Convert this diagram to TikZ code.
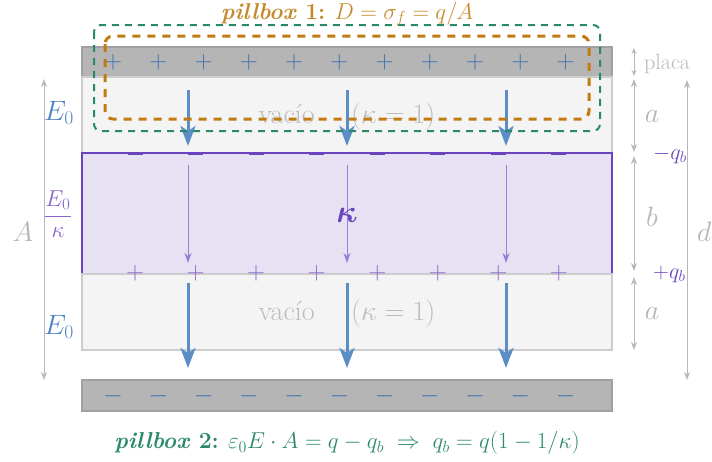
\RequirePackage{fix-cm}
\documentclass[tikz,border=0pt]{standalone}
\usepackage{amsmath}
\usetikzlibrary{arrows.meta}
\definecolor{plategray}{HTML}{B5B5B5}
\definecolor{plateedge}{HTML}{A0A0A0}
\definecolor{vacfill}{HTML}{F4F4F4}
\definecolor{vacedge}{HTML}{CDCDCD}
\definecolor{dielfill}{HTML}{E7E2F3}
\definecolor{dielpurple}{HTML}{6A44BE}
\definecolor{thinpurple}{HTML}{9A7ED6}
\definecolor{signpurple}{HTML}{8A66CC}
\definecolor{fieldblue}{HTML}{5B8EC7}
\definecolor{signblue}{HTML}{3D6FB2}
\definecolor{eblue}{HTML}{4F84C4}
\definecolor{dimgray}{HTML}{B8B8B8}
\definecolor{lblgray}{HTML}{B5B5B5}
\definecolor{vactext}{HTML}{BDBDBD}
\definecolor{pbgreen}{HTML}{2B8A66}
\definecolor{pborange}{HTML}{C27A12}
\definecolor{pbotext}{HTML}{C48A2C}
\newcommand{\fbig}{\fontsize{28}{34}\selectfont}
\newcommand{\fmid}{\fontsize{22}{26}\selectfont}
\newcommand{\fsign}{\fontsize{25}{30}\selectfont}
\newcommand{\fpb}{\fontsize{23}{28}\selectfont}
\tikzset{
  plate/.style={fill=plategray, draw=plateedge, line width=1.2pt},
  vac/.style={fill=vacfill, draw=vacedge, line width=1.2pt},
  diel/.style={fill=dielfill, draw=dielpurple, line width=1.6pt},
  efield/.style={draw=fieldblue, line width=3pt, -{Stealth[length=20pt,width=15pt,inset=5pt]}},
  dfield/.style={draw=thinpurple, line width=1pt, -{Stealth[length=10pt,width=7pt,inset=3pt]}},
  dimline/.style={draw=dimgray, line width=1pt, {Stealth[length=8pt,width=6pt,inset=2.5pt]}-{Stealth[length=8pt,width=6pt,inset=2.5pt]}},
  bsign/.style={inner sep=0pt, text=signblue, font=\fsign},
  psign/.style={inner sep=0pt, text=signpurple, font=\fsign},
  dminus/.style={draw=dielpurple, line width=3.5pt},
  lbl/.style={inner sep=0pt, text=lblgray, font=\fbig},
  vactxt/.style={inner sep=0pt, text=vactext, font=\fbig},
  pbox1/.style={draw=pborange, line width=3pt, dash pattern=on 8pt off 7pt, rounded corners=8pt},
  pbox2/.style={draw=pbgreen, line width=2pt, dash pattern=on 7pt off 6pt, rounded corners=7pt}
}
\begin{document}
\begin{tikzpicture}[x=1pt,y=-1pt]
\useasboundingbox (0,0) rectangle (712,461);
% plates and layers
\draw[plate] (82,47) rectangle (612,77);
\draw[plate] (82,380) rectangle (612,411);
\draw[vac] (82,77) rectangle (612,153);
\draw[diel] (82,153) rectangle (612,274);
\draw[vac] (82,274) rectangle (612,350);
% free charges on plates
\foreach \i in {0,...,10} {
  \node[bsign] (pp\i) at ({113+45.27*\i},62) {$+$};
  \node[bsign] (pm\i) at ({113+45.27*\i},396) {$-$};
}
% bound charges
\foreach \i in {0,...,7} {
  \draw[dminus] ({135+60.57*\i-7.5},153.6) -- ++(15,0);
  \node[psign] (bp\i) at ({135+60.57*\i},273) {$+$};
}
% texts in layers
\node[vactxt] (v1) at (347,116) {vac\'io \quad $(\kappa=1)$};
\node[vactxt] (v2) at (347,313) {vac\'io \quad $(\kappa=1)$};
% fields
\foreach \x in {188,347,506} {
  \coordinate (a\x) at (\x,90);  \coordinate (b\x) at (\x,146);
  \coordinate (c\x) at (\x,165); \coordinate (d\x) at (\x,263);
  \coordinate (e\x) at (\x,283); \coordinate (f\x) at (\x,368);
  \draw[efield] (a\x) -- (b\x);
  \draw[dfield] (c\x) -- (d\x);
  \draw[efield] (e\x) -- (f\x);
}
\node[inner sep=0pt, text=dielpurple, font=\fontsize{32}{38}\selectfont] (kap) at (347,215) {$\boldsymbol{\kappa}$};
% left labels
\coordinate (At) at (44,79); \coordinate (Ab) at (44,380);
\draw[dimline] (At) -- (Ab);
\node[lbl] (A) at (23,232) {$A$};
\node[inner sep=0pt, text=eblue, font=\fbig] (E1) at (59,113) {$E_0$};
\node[inner sep=0pt, text=signpurple, font=\fontsize{23}{28}\selectfont] (E2) at (58,214) {$\dfrac{E_0}{\kappa}$};
\node[inner sep=0pt, text=eblue, font=\fbig] (E3) at (59,327) {$E_0$};
% right dimensions
\coordinate (p1) at (634,48); \coordinate (p2) at (634,76);
\draw[draw=dimgray, line width=1pt, {Stealth[length=6pt,width=5pt,inset=2pt]}-{Stealth[length=6pt,width=5pt,inset=2pt]}] (p1) -- (p2);
\node[inner sep=0pt, anchor=west, text=dimgray, font=\fmid] (placa) at (644,64) {placa};
\coordinate (r1) at (634,79); \coordinate (r2) at (634,152);
\coordinate (r3) at (634,156); \coordinate (r4) at (634,271);
\coordinate (r5) at (634,277); \coordinate (r6) at (634,350);
\draw[dimline] (r1) -- (r2);
\draw[dimline] (r3) -- (r4);
\draw[dimline] (r5) -- (r6);
\node[lbl] (la1) at (652,116) {$a$};
\node[lbl] (lb) at (652,217) {$b$};
\node[lbl] (la2) at (652,313) {$a$};
\node[inner sep=0pt, anchor=west, text=dielpurple, font=\fmid] (qm) at (653,155) {$-q_b$};
\node[inner sep=0pt, anchor=west, text=dielpurple, font=\fmid] (qp) at (653,274) {$+q_b$};
\coordinate (dt) at (687,80); \coordinate (db) at (687,380);
\draw[dimline] (dt) -- (db);
\node[lbl, anchor=west] (ld) at (697,232) {$d$};
% pillboxes
\draw[pbox2] (94,25) rectangle (600,131);
\draw[pbox1] (105,36) rectangle (589,119);
\node[inner sep=0pt, text=pbotext, font=\fpb] (pb1) at (347,14) {\textbf{\textit{pillbox} 1:} $D=\sigma_f=q/A$};
\node[inner sep=0pt, text=pbgreen, font=\fpb] (pb2) at (347,443) {\textbf{\textit{pillbox} 2:} $\varepsilon_0E\cdot A=q-q_b\;\Rightarrow\;q_b=q(1-1/\kappa)$};
\end{tikzpicture}
\end{document}
